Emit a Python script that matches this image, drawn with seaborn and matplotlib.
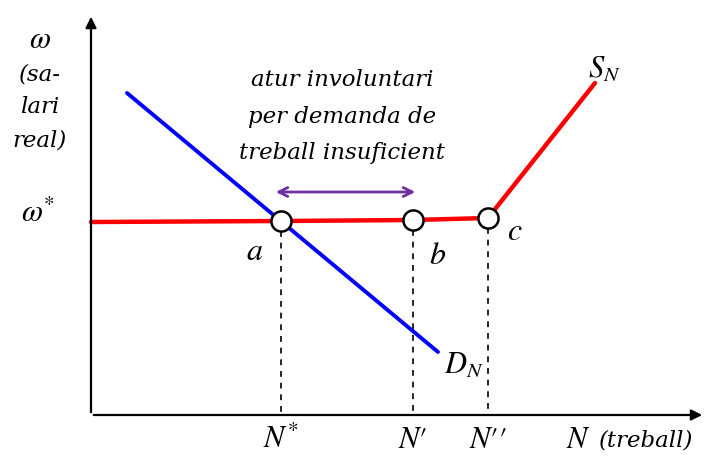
import matplotlib.pyplot as plt
import seaborn as sns
import pandas as pd

# diagram geometry (in picture units, y grows downward)
axis_origin = (91, 415)
x_axis_end = 705
y_axis_end = 14

supply_x = [91, 281, 413, 488, 595]
supply_y = [222, 221, 220, 218, 83]
demand_x = [127, 438]
demand_y = [93, 352]

point_x = [281, 413, 488]
point_y = [221, 220, 218]
point_names = ['a', 'b', 'c']
point_name_x = [255, 438, 515]
point_name_y = [252, 255, 231]

tick_names = [r'$N^{*}$', r'$N\prime$', r'$N\prime\prime$']

title_lines = ['atur involuntari', 'per demanda de', 'treball insuficient']
ylabel_lines = ['(sa-', 'lari', 'real)']

sns.set_theme(style='white')
plt.rcParams['mathtext.fontset'] = 'stix'
plt.rcParams['font.family'] = ['DejaVu Serif']
plt.rcParams['text.color'] = 'black'

fig = plt.figure(figsize=(7.12, 4.57), dpi=100)
ax = fig.add_axes([0, 0, 1, 1])

ox, oy = axis_origin
ax.annotate('', xy=(x_axis_end, oy), xytext=(ox, oy),
            arrowprops=dict(arrowstyle='-|>', lw=1.6, color='black', mutation_scale=16))
ax.annotate('', xy=(ox, y_axis_end), xytext=(ox, oy),
            arrowprops=dict(arrowstyle='-|>', lw=1.6, color='black', mutation_scale=16))

# dashed drop lines
for px, py in zip(point_x, point_y):
    ax.plot([px, px], [py + 10, oy], ls=(0, (3.5, 3.5)), color='black', lw=1.2, zorder=1)

df_s = pd.DataFrame({'x': supply_x, 'y': supply_y})
df_d = pd.DataFrame({'x': demand_x, 'y': demand_y})
sns.lineplot(data=df_s, x='x', y='y', sort=False, color='#ff0000', lw=3.2, ax=ax, zorder=2)
sns.lineplot(data=df_d, x='x', y='y', sort=False, color='#0000ff', lw=2.8, ax=ax, zorder=2)

df_p = pd.DataFrame({'x': point_x, 'y': point_y})
sns.scatterplot(data=df_p, x='x', y='y', s=210, color='white', edgecolor='black',
                linewidth=1.8, ax=ax, zorder=3)

ax.set_xlim(0, 712)
ax.set_ylim(457, 0)
ax.axis('off')

# purple double arrow
ax.annotate('', xy=(418, 192), xytext=(273, 192),
            arrowprops=dict(arrowstyle='<->', lw=2, color='#7030a0', mutation_scale=16))

fs = 16.5
for i, line in enumerate(title_lines):
    ax.text(342, 80 + 36.5 * i, line, fontsize=fs, style='italic', ha='center', va='center')

ax.text(40, 40, r'$\omega$', fontsize=22, ha='center', va='center')
for i, line in enumerate(ylabel_lines):
    ax.text(40, 74 + 33 * i, line, fontsize=fs, style='italic', ha='center', va='center')
ax.text(38, 213, r'$\omega^{*}$', fontsize=22, ha='center', va='center')

for name, tx, ty in zip(point_names, point_name_x, point_name_y):
    ax.text(tx, ty, '$' + name + '$', fontsize=23, ha='center', va='center')

for name, px in zip(tick_names, point_x):
    ax.text(px, 440, name, fontsize=22, ha='center', va='center')
ax.text(578, 440, '$N$', fontsize=22, ha='center', va='center')
ax.text(599, 440, '(treball)', fontsize=fs, style='italic', ha='left', va='center')

ax.text(464, 365, '$D_N$', fontsize=22, ha='center', va='center')
ax.text(604, 69, '$S_N$', fontsize=22, ha='center', va='center')

fig.savefig('out.png', dpi=100)
